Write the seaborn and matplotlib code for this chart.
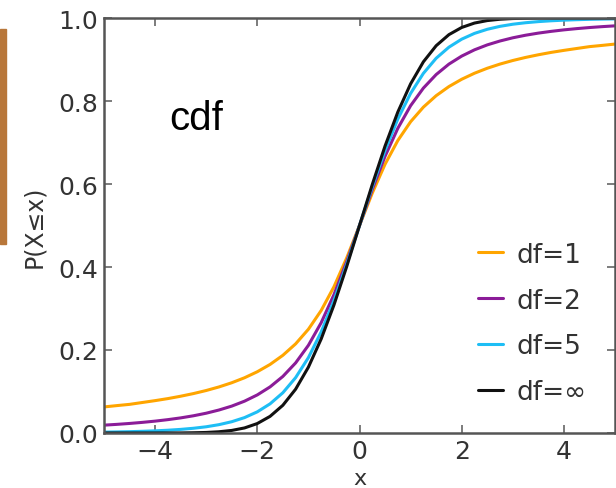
import numpy as np
import pandas as pd
import matplotlib.pyplot as plt
import seaborn as sns
from matplotlib.patches import Rectangle

# values (Student t cdf curves)
x_vals = [-5.0, -4.75, -4.5, -4.25, -4.0, -3.75, -3.5, -3.25, -3.0, -2.75,
          -2.5, -2.25, -2.0, -1.75, -1.5, -1.25, -1.0, -0.75, -0.5, -0.25,
          0.0, 0.25, 0.5, 0.75, 1.0, 1.25, 1.5, 1.75, 2.0, 2.25,
          2.5, 2.75, 3.0, 3.25, 3.5, 3.75, 4.0, 4.25, 4.5, 4.75, 5.0]

cdf_df1 = [0.0628, 0.0660, 0.0690, 0.0735, 0.0780, 0.0829, 0.0886, 0.0950, 0.1024, 0.1110,
           0.1211, 0.1331, 0.1476, 0.1652, 0.1872, 0.2148, 0.2500, 0.2952, 0.3524, 0.4220,
           0.5000, 0.5780, 0.6476, 0.7048, 0.7500, 0.7852, 0.8128, 0.8348, 0.8524, 0.8669,
           0.8789, 0.8890, 0.8976, 0.9050, 0.9114, 0.9171, 0.9220, 0.9265, 0.9310, 0.9340, 0.9372]

cdf_df2 = [0.0189, 0.0208, 0.0230, 0.0256, 0.0286, 0.0322, 0.0364, 0.0415, 0.0477, 0.0554,
           0.0648, 0.0767, 0.0918, 0.1111, 0.1363, 0.1689, 0.2113, 0.2658, 0.3333, 0.4130,
           0.5000, 0.5870, 0.6667, 0.7342, 0.7887, 0.8311, 0.8637, 0.8889, 0.9082, 0.9233,
           0.9352, 0.9446, 0.9523, 0.9585, 0.9636, 0.9678, 0.9714, 0.9744, 0.9770, 0.9792, 0.9811]

cdf_df5 = [0.0021, 0.0026, 0.0032, 0.0041, 0.0052, 0.0067, 0.0087, 0.0114, 0.0150, 0.0201,
           0.0272, 0.0371, 0.0510, 0.0703, 0.0970, 0.1334, 0.1816, 0.2435, 0.3191, 0.4063,
           0.5000, 0.5937, 0.6809, 0.7565, 0.8184, 0.8666, 0.9030, 0.9297, 0.9490, 0.9629,
           0.9728, 0.9799, 0.9850, 0.9886, 0.9913, 0.9933, 0.9948, 0.9959, 0.9968, 0.9974, 0.9979]

cdf_inf = [0.0000, 0.0000, 0.0000, 0.0000, 0.0000, 0.0001, 0.0002, 0.0006, 0.0013, 0.0030,
           0.0062, 0.0122, 0.0228, 0.0401, 0.0668, 0.1056, 0.1587, 0.2266, 0.3085, 0.4013,
           0.5000, 0.5987, 0.6915, 0.7734, 0.8413, 0.8944, 0.9332, 0.9599, 0.9772, 0.9878,
           0.9938, 0.9970, 0.9987, 0.9994, 0.9998, 0.9999, 1.0000, 1.0000, 1.0000, 1.0000, 1.0000]

labels = ["df=1", "df=2", "df=5", "df=\u221e"]
colors = ["#FFA500", "#8B1C98", "#1EBEF5", "#111111"]

frames = []
for lab, vals in zip(labels, [cdf_df1, cdf_df2, cdf_df5, cdf_inf]):
    frames.append(pd.DataFrame({"x": x_vals, "p": vals, "df": lab}))
data = pd.concat(frames, ignore_index=True)

sns.set_style("ticks")
plt.rcParams['font.family'] = ['DejaVu Sans']

fig = plt.figure(figsize=(6.16, 4.89), dpi=100)
ax = fig.add_axes([104 / 616, 55 / 489, 511 / 616, 415 / 489])

sns.lineplot(data=data, x="x", y="p", hue="df", palette=dict(zip(labels, colors)),
             linewidth=2.2, ax=ax, legend=True)

ax.set_xlim(-5, 5)
ax.set_ylim(0, 1)
ax.set_xticks([-4, -2, 0, 2, 4])
ax.set_yticks([0.0, 0.2, 0.4, 0.6, 0.8, 1.0])
ax.set_xticklabels(["\u22124", "\u22122", "0", "2", "4"])
ax.set_yticklabels(["0.0", "0.2", "0.4", "0.6", "0.8", "1.0"])
ax.tick_params(direction="in", length=6, width=1.2, color="#666666",
               top=True, right=True, labelsize=18, labelcolor="#333333", pad=4)
for s in ax.spines.values():
    s.set_color("#555555")
    s.set_linewidth(1.8)

ax.set_xlabel("x", fontsize=16, color="#333333", labelpad=4)
ax.set_ylabel("P(X\u2264x)", fontsize=17, color="#333333", labelpad=9)

ax.text(0.18, 0.76, "cdf", transform=ax.transAxes, fontsize=29,
        family="Liberation Sans", color="black", ha="center", va="center")

leg = ax.legend(loc="lower right", bbox_to_anchor=(0.99, 0.01), frameon=False,
                fontsize=19, handlelength=0.95, handletextpad=0.5, labelspacing=0.75)
for t in leg.get_texts():
    t.set_color("#333333")

# copper bar at the left edge
fig.patches.append(Rectangle((0, 244 / 489), 6 / 616, 215 / 489,
                             transform=fig.transFigure, color="#B8773A"))

fig.savefig("out.png", dpi=100)
